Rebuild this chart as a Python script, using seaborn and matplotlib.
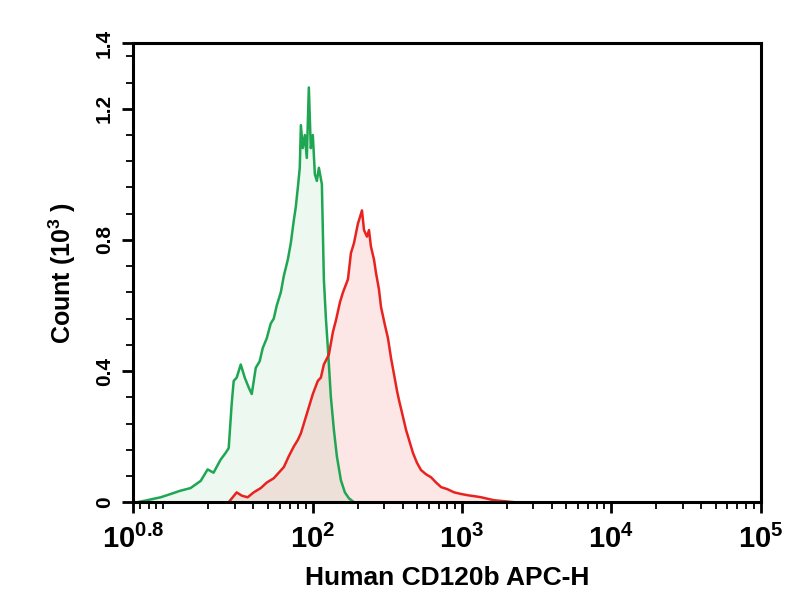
import numpy as np
import pandas as pd
import seaborn as sns
import matplotlib.pyplot as plt
from matplotlib.ticker import FixedLocator, NullFormatter, LogLocator

# fluorescence intensity (APC-H) and counts (x10^3)
green_x = [6.7, 7.6, 9.6, 11.2, 13.0, 15.2, 17.8, 19.8, 21.7, 24.2, 26.1, 27.4, 28.7, 29.6,
           31.0, 33.0, 35.1, 37.3, 39.1, 41.6, 44.2, 46.3, 49.3, 52.4, 54.9, 57.5, 61.2,
           64.1, 68.2, 71.4, 74.8, 77.1, 79.6, 82.0, 83.4, 85.9, 88.7, 91.4, 94.3, 97.2,
           100.3, 103.5, 106.7, 110.1, 115.3, 118.9, 122.7, 126.5, 132.5, 138.8, 145.3,
           154.6, 164.4, 174.9, 189.1]
green_y = [0.0, 0.005, 0.015, 0.025, 0.035, 0.043, 0.065, 0.10, 0.09, 0.13, 0.15, 0.165,
           0.30, 0.37, 0.38, 0.42, 0.38, 0.35, 0.33, 0.41, 0.43, 0.47, 0.50, 0.545, 0.56,
           0.60, 0.64, 0.69, 0.74, 0.79, 0.86, 0.90, 0.96, 1.02, 1.15, 1.08, 1.12, 1.05,
           1.265, 1.08, 1.12, 1.00, 0.98, 1.02, 0.97, 0.68, 0.56, 0.47, 0.32, 0.22, 0.14,
           0.067, 0.03, 0.012, 0.0]

red_x = [27.4, 31.0, 33.5, 36.7, 40.3, 44.9, 49.3, 54.9, 59.3, 64.1, 69.2, 74.8, 79.6,
         83.4, 88.7, 92.9, 100.3, 108.3, 113.5, 118.9, 128.4, 136.8, 143.3, 152.4, 159.6,
         172.4, 180.5, 189.1, 195.0, 201.1, 207.6, 214.0, 220.8, 231.2, 238.5, 245.6,
         257.6, 265.5, 277.9, 287.1, 304.9, 319.6, 334.8, 350.7, 367.2, 379.3, 402.9,
         422.5, 449.0, 470.0, 500.0, 532.0, 575.0, 621.0, 671.0, 725.0, 796.0, 887.0,
         988.0, 1102, 1227, 1346, 1500, 1644, 1919, 2240]
red_y = [0.0, 0.03, 0.02, 0.015, 0.03, 0.043, 0.06, 0.073, 0.09, 0.107, 0.14, 0.17, 0.19,
         0.21, 0.25, 0.28, 0.33, 0.37, 0.38, 0.42, 0.45, 0.52, 0.555, 0.61, 0.64, 0.68,
         0.76, 0.79, 0.82, 0.85, 0.87, 0.89, 0.83, 0.81, 0.83, 0.78, 0.74, 0.70, 0.65,
         0.595, 0.54, 0.50, 0.44, 0.39, 0.34, 0.31, 0.26, 0.22, 0.18, 0.15, 0.12, 0.098,
         0.085, 0.076, 0.06, 0.046, 0.04, 0.03, 0.025, 0.021, 0.018, 0.015, 0.01, 0.006,
         0.003, 0.0]

xtick_vals = [10 ** 0.8, 1e2, 1e3, 1e4, 1e5]
xtick_labels = [r"$10^{0.8}$", r"$10^{2}$", r"$10^{3}$", r"$10^{4}$", r"$10^{5}$"]
ytick_vals = [0, 0.4, 0.8, 1.2, 1.4]
ytick_labels = ["0", "0.4", "0.8", "1.2", "1.4"]

sns.set_style("ticks")
plt.rcParams['font.family'] = ['Liberation Sans', 'DejaVu Sans']
plt.rcParams['mathtext.fontset'] = 'custom'
plt.rcParams['mathtext.rm'] = 'Liberation Sans:bold'
plt.rcParams['mathtext.it'] = 'Liberation Sans:bold'
plt.rcParams['mathtext.bf'] = 'Liberation Sans:bold'
plt.rcParams['text.color'] = 'black'
plt.rcParams['axes.labelcolor'] = 'black'
plt.rcParams['xtick.color'] = 'black'
plt.rcParams['ytick.color'] = 'black'

green = pd.DataFrame({'x': green_x, 'y': green_y})
red = pd.DataFrame({'x': red_x, 'y': red_y})

fig = plt.figure(figsize=(8.04, 6), dpi=100)
ax = fig.add_axes([0.166, 0.163, 0.780, 0.765])

# fills first, the overlap comes out beige
ax.fill_between(green['x'], green['y'], color='#1aa653', alpha=0.08, lw=0)
ax.fill_between(red['x'], red['y'], color='#e61e1e', alpha=0.11, lw=0)
sns.lineplot(data=green, x='x', y='y', ax=ax, color='#1fa653', lw=1.8, sort=False)
sns.lineplot(data=red, x='x', y='y', ax=ax, color='#e8231f', lw=1.8, sort=False)

ax.set_xscale('log')
ax.set_xlim(10 ** 0.8, 1e5)
ax.set_ylim(0, 1.4)

ax.xaxis.set_major_locator(FixedLocator(xtick_vals))
ax.set_xticklabels(xtick_labels, fontsize=21)
ax.xaxis.set_minor_locator(LogLocator(base=10, subs=np.arange(1, 10)))
ax.xaxis.set_minor_formatter(NullFormatter())

ax.yaxis.set_major_locator(FixedLocator(ytick_vals))
ax.set_yticklabels(ytick_labels, fontsize=15, fontweight='bold', rotation=90, va='center')
ax.yaxis.set_minor_locator(FixedLocator(np.arange(0.08, 1.4, 0.08)))

for s in ax.spines.values():
    s.set_linewidth(2.2)
    s.set_color('black')
ax.tick_params(which='major', length=8, width=2, color='black', labelcolor='black', pad=6)
ax.tick_params(which='minor', length=5, width=1.3, color='black')
ax.tick_params(axis='x', which='major', pad=8)

ax.set_xlabel('Human CD120b APC-H', fontsize=19, fontweight='bold', labelpad=9)
ax.set_ylabel(r'Count (10$^{3}$ )', fontsize=18, fontweight='bold', labelpad=12)

fig.savefig('out.png', dpi=100)
